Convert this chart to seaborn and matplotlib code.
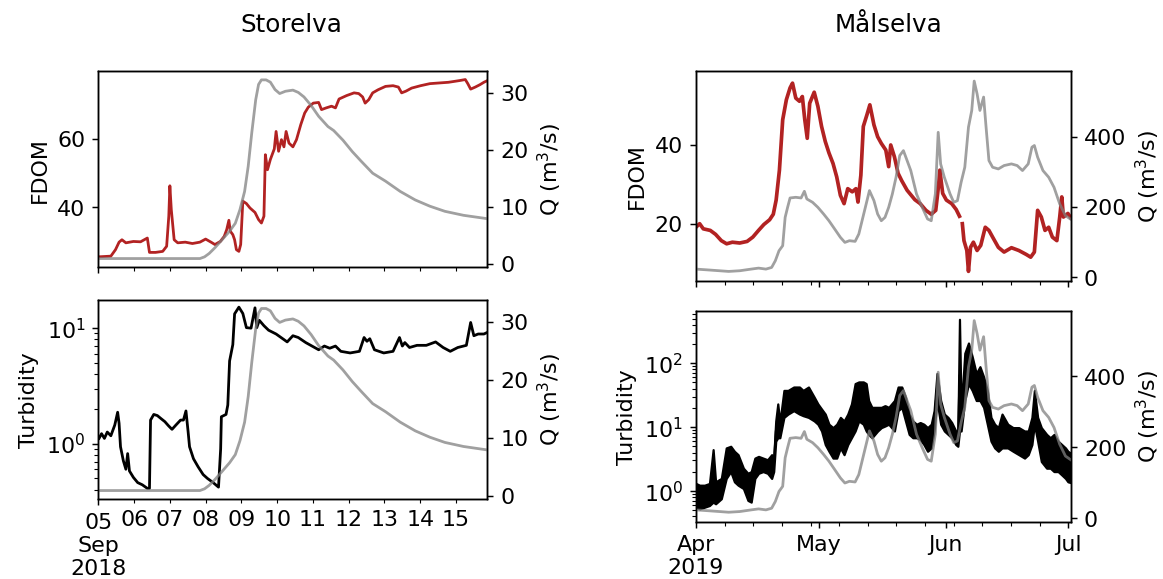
import matplotlib
matplotlib.use("Agg")
import numpy as np
import pandas as pd
import matplotlib.pyplot as plt
import matplotlib.dates as mdates
import matplotlib.ticker as mticker
import seaborn as sns

# ---------------- Storelva (days since 2018-09-05 00:00) ----------------
storelva_start = pd.Timestamp("2018-09-05")
storelva_span_days = 10.88

storelva_fdom_day = [0.0, 0.35, 0.48, 0.58, 0.66, 0.77, 0.98, 1.18, 1.37, 1.43, 1.60, 1.80, 1.91, 1.97,
                     2.00, 2.04, 2.12, 2.22, 2.43, 2.63, 2.84, 3.00, 3.15, 3.26, 3.41, 3.52, 3.59, 3.65,
                     3.69, 3.76, 3.81, 3.86, 3.93, 3.98, 4.04, 4.14, 4.24, 4.38, 4.48, 4.56, 4.63, 4.67,
                     4.73, 4.81, 4.92, 4.97, 5.04, 5.12, 5.19, 5.25, 5.33, 5.44, 5.54, 5.66, 5.77, 5.87,
                     6.01, 6.16, 6.24, 6.37, 6.52, 6.63, 6.73, 6.94, 7.15, 7.28, 7.39, 7.46, 7.56, 7.67,
                     7.82, 8.03, 8.24, 8.39, 8.48, 8.60, 8.76, 9.01, 9.27, 9.53, 9.79, 10.10, 10.26,
                     10.33, 10.41, 10.54, 10.67, 10.78, 10.88]
storelva_fdom = [25.5, 25.7, 27.6, 29.8, 30.5, 29.6, 30.0, 29.9, 31.0, 26.8, 26.8, 27.1, 28.6, 37.4,
                 46.3, 39.3, 30.5, 29.6, 29.8, 29.4, 29.8, 30.7, 29.8, 29.1, 30.0, 31.5, 33.5, 36.2,
                 33.0, 32.0, 30.5, 27.6, 27.1, 29.1, 41.8, 41.1, 39.8, 38.5, 36.4, 35.4, 37.4, 55.4,
                 51.0, 54.0, 57.1, 62.2, 56.4, 59.8, 57.7, 62.2, 58.8, 57.7, 59.8, 64.2, 67.6, 69.3,
                 70.5, 70.7, 68.6, 69.1, 69.6, 69.1, 71.7, 72.7, 73.5, 73.3, 72.3, 70.5, 71.5, 73.5,
                 74.4, 75.4, 75.6, 75.2, 73.5, 74.0, 74.9, 75.6, 76.2, 76.4, 76.6, 77.1, 77.4,
                 76.2, 74.6, 75.2, 75.9, 76.6, 77.1]

storelva_q_day = [0.0, 2.84, 2.97, 3.10, 3.26, 3.46, 3.67, 3.83, 3.96, 4.09, 4.19, 4.29, 4.40, 4.48,
                  4.56, 4.69, 4.81, 4.94, 5.07, 5.23, 5.44, 5.59, 5.75, 5.95, 6.16, 6.42, 6.58, 6.84,
                  7.10, 7.35, 7.67, 8.03, 8.44, 8.86, 9.27, 9.69, 10.21, 10.88]
storelva_q = [0.9, 0.9, 1.2, 1.8, 2.8, 4.2, 5.7, 7.1, 9.5, 12.7, 17.1, 23.0, 28.8, 31.5,
              32.3, 32.3, 31.9, 30.6, 29.9, 30.3, 30.5, 30.1, 29.3, 27.8, 25.9, 24.1, 23.4, 21.7,
              19.7, 18.0, 15.9, 14.5, 12.7, 11.2, 10.1, 9.2, 8.5, 7.9]

storelva_turb_day = [0.02, 0.09, 0.17, 0.25, 0.35, 0.46, 0.54, 0.58, 0.62, 0.70, 0.77, 0.82, 0.87, 0.98,
                     1.10, 1.23, 1.37, 1.43, 1.46, 1.55, 1.65, 1.75, 1.86, 1.96, 2.06, 2.17, 2.30, 2.38,
                     2.45, 2.51, 2.55, 2.66, 2.79, 2.93, 3.05, 3.21, 3.36, 3.42, 3.44, 3.57, 3.62, 3.67,
                     3.76, 3.81, 3.93, 4.04, 4.14, 4.27, 4.38, 4.43, 4.50, 4.63, 4.76, 4.97, 5.18, 5.28,
                     5.44, 5.59, 5.80, 6.01, 6.16, 6.32, 6.47, 6.63, 6.78, 7.04, 7.30, 7.43, 7.51, 7.59,
                     7.72, 7.98, 8.24, 8.42, 8.50, 8.57, 8.70, 8.91, 9.17, 9.43, 9.64, 9.84, 10.05, 10.29,
                     10.41, 10.50, 10.62, 10.78, 10.88]
storelva_turb = [1.11, 1.22, 1.11, 1.26, 1.17, 1.45, 1.87, 1.50, 0.94, 0.71, 0.60, 0.82, 0.58, 0.51,
                 0.46, 0.44, 0.41, 0.41, 1.60, 1.79, 1.75, 1.65, 1.55, 1.43, 1.33, 1.45, 1.60, 1.60,
                 1.92, 1.27, 0.94, 0.74, 0.63, 0.54, 0.50, 0.46, 0.42, 0.90, 1.71, 1.79, 2.16, 5.2,
                 7.2, 13.3, 15.2, 13.4, 10.1, 10.0, 15.0, 10.1, 11.7, 10.5, 9.6, 8.9, 8.0, 7.6,
                 8.6, 8.3, 7.5, 6.9, 6.5, 7.0, 6.7, 7.0, 6.3, 6.1, 6.3, 8.3, 7.7, 8.1,
                 6.5, 6.1, 6.3, 8.3, 7.0, 7.5, 6.8, 7.1, 7.1, 7.6, 6.8, 6.3, 6.8, 7.1,
                 11.2, 8.6, 8.9, 8.9, 9.2]

# ---------------- Målselva (days since 2019-04-01 00:00) ----------------
malselva_start = pd.Timestamp("2019-04-01")
malselva_span_days = 91.67

# FDOM record has a break in early June; two segments
malselva_fdom_day_a = [0.0, 0.9, 1.8, 3.5, 4.8, 6.2, 7.5, 8.9, 10.7, 12.5, 13.9, 15.3, 16.6, 18.0, 18.9,
                       19.6, 20.4, 21.2, 22.1, 23.0, 23.6, 24.4, 25.3, 26.0, 26.6, 27.2, 27.8, 28.9,
                       29.8, 30.7, 31.6, 32.5, 33.5, 34.4, 35.3, 36.2, 37.1, 38.2, 39.1, 39.6, 40.3,
                       40.9, 41.8, 42.5, 43.5, 44.4, 45.3, 46.4, 47.1, 47.6, 48.5, 49.4, 50.3, 51.6,
                       53.5, 54.8, 56.2, 57.5, 58.6, 59.3, 59.6, 60.3, 61.2, 62.5, 63.6, 64.4]
malselva_fdom_a = [19.1, 20.0, 18.7, 18.3, 17.3, 15.7, 14.9, 15.3, 15.1, 15.5, 16.6, 18.3, 19.8, 21.0, 22.4,
                   26.0, 33.6, 46.4, 51.5, 54.5, 55.7, 51.9, 51.1, 52.3, 46.4, 41.7, 50.6, 53.4,
                   49.8, 44.7, 40.9, 38.0, 35.3, 31.9, 27.2, 25.1, 28.9, 28.1, 28.9, 25.5, 32.3,
                   44.7, 47.7, 50.2, 45.1, 42.1, 40.4, 38.7, 34.5, 40.0, 37.0, 32.8, 30.9, 28.5,
                   26.1, 25.1, 23.4, 22.4, 23.4, 29.8, 33.6, 27.7, 26.0, 25.1, 23.6, 21.9]
malselva_fdom_day_b = [65.1, 65.5, 66.2, 66.6, 67.1, 67.8, 68.7, 69.6, 70.7, 71.6, 72.5, 73.9, 75.3, 77.1,
                       78.9, 80.7, 81.8, 82.7, 83.5, 84.4, 85.3, 86.2, 87.1, 88.2, 88.9, 89.4, 89.8,
                       90.9, 91.6]
malselva_fdom_b = [20.0, 15.7, 13.2, 7.9, 14.0, 15.3, 13.2, 14.5, 19.1, 18.3, 16.6, 14.0, 12.8, 13.9,
                   13.2, 12.2, 11.5, 12.8, 23.4, 21.7, 18.3, 19.1, 16.6, 15.7, 21.7, 26.8, 21.7,
                   22.6, 21.5]

malselva_q_day = [0.0, 3.5, 8.0, 10.7, 13.5, 15.3, 17.1, 18.5, 19.4, 20.3, 21.2, 21.8, 22.4, 23.0, 24.4,
                  25.7, 26.5, 27.1, 28.5, 29.8, 31.2, 32.5, 33.9, 35.3, 36.4, 37.5, 38.9, 39.8, 41.2,
                  42.4, 43.5, 44.4, 45.3, 46.2, 47.1, 48.0, 48.9, 49.8, 50.7, 51.6, 52.5, 53.9, 55.3,
                  56.6, 57.5, 58.5, 59.2, 59.8, 60.7, 62.1, 63.0, 63.9, 64.8, 65.7, 66.6, 67.4, 68.0,
                  68.7, 69.4, 70.3, 70.9, 71.6, 72.5, 73.9, 75.3, 77.1, 78.5, 79.8, 81.2, 82.1, 82.7,
                  83.5, 84.8, 86.2, 87.5, 88.9, 90.3, 90.9, 91.6]
malselva_q = [23.7, 20.9, 17.1, 19.0, 23.7, 26.5, 23.7, 28.4, 47.4, 75.8, 90.1, 170.6, 199.0, 225.6, 227.5,
              225.6, 244.6, 222.8, 213.3, 199.0, 180.0, 161.0, 137.5, 113.8, 99.5, 104.3, 102.4, 123.2, 189.6,
              246.5, 218.0, 180.0, 161.0, 170.6, 199.0, 237.0, 284.4, 346.0, 360.0, 331.8, 303.4, 237.0, 199.0,
              166.0, 161.0, 237.0, 412.0, 322.0, 284.4, 237.0, 213.3, 218.0, 270.0, 312.8, 426.6, 474.0, 557.4,
              521.4, 474.0, 512.0, 426.6, 331.8, 312.8, 308.0, 317.6, 322.3, 317.6, 303.4, 322.3, 369.7, 374.5,
              341.3, 303.4, 284.4, 256.0, 208.6, 175.4, 170.6, 165.0]

# Turbidity is very noisy: upper and lower envelope of the record
malselva_turb_day = [0.0, 0.9, 2.1, 3.3, 4.2, 4.8, 6.2, 7.4, 8.5, 9.4, 10.3, 11.6, 12.7, 13.5, 14.4,
                     15.3, 16.4, 17.5, 18.5, 19.0, 19.5, 20.0, 20.5, 21.5, 22.5, 23.9, 25.3, 26.2,
                     27.5, 28.9, 29.8, 30.7, 31.6, 32.5, 33.5, 34.4, 35.3, 36.2, 37.1, 38.0, 38.9,
                     39.8, 40.9, 41.6, 42.2, 43.0, 44.4, 45.3, 46.2, 47.1, 48.5, 49.4, 50.3, 51.2,
                     52.1, 53.0, 53.9, 54.8, 55.7, 56.6, 57.5, 58.2, 58.9, 59.8, 60.7, 61.6, 62.5,
                     63.5, 64.0, 64.4, 64.8, 65.7, 66.6, 67.5, 68.5, 69.4, 70.3, 71.2, 72.1, 73.0,
                     73.9, 74.8, 76.2, 77.5, 78.9, 80.3, 81.2, 82.1, 82.7, 83.5, 84.4, 85.7, 86.6,
                     87.5, 88.5, 89.4, 90.3, 90.9, 91.6]
malselva_turb_high = [1.31, 1.23, 1.23, 1.31, 4.44, 1.39, 1.57, 4.72, 5.01, 4.18, 3.70, 2.27, 1.89, 2.01, 3.27,
                      3.48, 3.27, 3.08, 3.70, 3.27, 12.5, 23.1, 11.8, 37.6, 37.6, 42.5, 42.5, 37.6,
                      42.5, 29.5, 23.1, 19.2, 16.0, 11.1, 9.82, 11.1, 14.2, 12.5, 16.0, 23.1, 48.1,
                      51.1, 51.1, 48.1, 26.1, 20.4, 20.4, 20.4, 21.7, 20.4, 26.1, 42.5, 42.5, 29.5,
                      16.0, 12.5, 11.1, 11.8, 11.1, 9.82, 11.1, 18.1, 69.3, 26.1, 16.0, 14.2, 11.8,
                      8.69, 7.69, 489.0, 18.1, 144.0, 208.0, 128.0, 69.3, 88.5, 61.3, 37.6, 14.2, 11.1,
                      9.82, 16.0, 11.1, 9.82, 9.82, 8.69, 8.69, 14.2, 37.6, 14.2, 9.82, 7.69, 6.81,
                      7.69, 6.02, 5.33, 4.72, 4.18, 3.9]
malselva_turb_low = [0.556, 0.523, 0.556, 0.591, 0.668, 0.629, 0.755, 1.57, 2.01, 1.39, 1.23, 1.09, 0.710, 0.668, 1.57,
                     1.89, 2.01, 1.89, 1.57, 2.01, 6.02, 6.81, 6.81, 14.2, 16.0, 18.1, 16.0, 15.1,
                     14.2, 12.5, 11.1, 8.69, 5.33, 4.18, 3.27, 3.27, 4.72, 3.70, 5.33, 6.81, 8.69,
                     12.5, 11.1, 8.69, 7.69, 6.81, 8.69, 9.82, 10.4, 11.1, 8.69, 18.1, 20.4, 12.5,
                     7.69, 6.81, 6.81, 6.40, 5.33, 4.18, 4.72, 8.69, 26.1, 11.1, 8.69, 7.69, 6.81,
                     5.33, 5.01, 8.69, 8.69, 26.1, 48.1, 37.6, 26.1, 26.1, 20.4, 11.1, 6.02, 4.72,
                     4.18, 4.72, 4.72, 4.18, 3.70, 3.27, 3.70, 5.33, 11.1, 6.02, 2.89, 2.27, 2.27,
                     2.01, 2.01, 1.78, 1.57, 1.39, 1.35]

FDOM_COLOR = "firebrick"
Q_COLOR = "grey"
Q_ALPHA = 0.75

plt.rcParams["font.size"] = 12


def to_time(start, days):
    return start + pd.to_timedelta(np.asarray(days, dtype=float), unit="D")


W, H = 1163, 579
DPI = 133


def rect(x0, y0, x1, y1):
    return [x0 / W, 1 - y1 / H, (x1 - x0) / W, (y1 - y0) / H]


fig = plt.figure(figsize=((W + 0.4) / DPI, (H + 0.4) / DPI), dpi=DPI)

ax_s_fdom = fig.add_axes(rect(98.3, 71.7, 487.3, 267.3))
ax_s_turb = fig.add_axes(rect(98.3, 300.0, 487.3, 499.3), sharex=ax_s_fdom)
ax_m_fdom = fig.add_axes(rect(695.7, 71.7, 1070.7, 281.0))
ax_m_turb = fig.add_axes(rect(695.7, 311.0, 1070.7, 521.7), sharex=ax_m_fdom)

Q_LABEL = "Q (m$^3$/s)"


def add_discharge(ax, t, q, ylim, step):
    axq = ax.twinx()
    sns.lineplot(x=t, y=q, ax=axq, color=Q_COLOR, alpha=Q_ALPHA, linewidth=1.5)
    axq.set_ylim(*ylim)
    axq.yaxis.set_major_locator(mticker.MultipleLocator(step))
    axq.set_ylabel(Q_LABEL)
    return axq


# ---- Storelva FDOM ----
t_sq = to_time(storelva_start, storelva_q_day)
sns.lineplot(x=to_time(storelva_start, storelva_fdom_day), y=storelva_fdom, ax=ax_s_fdom,
             color=FDOM_COLOR, linewidth=1.5)
ax_s_fdom.set_ylim(22.5, 79.8)
ax_s_fdom.yaxis.set_major_locator(mticker.MultipleLocator(20))
ax_s_fdom.set_ylabel("FDOM")
add_discharge(ax_s_fdom, t_sq, storelva_q, (-0.6, 33.8), 10)

# ---- Storelva turbidity ----
ax_s_turb.set_yscale("log")
sns.lineplot(x=to_time(storelva_start, storelva_turb_day), y=storelva_turb, ax=ax_s_turb,
             color="black", linewidth=1.5)
ax_s_turb.set_ylim(0.33, 17.6)
ax_s_turb.set_ylabel("Turbidity")
add_discharge(ax_s_turb, t_sq, storelva_q, (-0.6, 33.8), 10)

# ---- Målselva FDOM ----
t_mq = to_time(malselva_start, malselva_q_day)
sns.lineplot(x=to_time(malselva_start, malselva_fdom_day_a), y=malselva_fdom_a, ax=ax_m_fdom,
             color=FDOM_COLOR, linewidth=2.0)
sns.lineplot(x=to_time(malselva_start, malselva_fdom_day_b), y=malselva_fdom_b, ax=ax_m_fdom,
             color=FDOM_COLOR, linewidth=2.0)
ax_m_fdom.set_ylim(5.5, 58.7)
ax_m_fdom.yaxis.set_major_locator(mticker.MultipleLocator(20))
ax_m_fdom.set_ylabel("FDOM")
add_discharge(ax_m_fdom, t_mq, malselva_q, (-9.5, 585), 200)

# ---- Målselva turbidity: envelope of the noisy record ----
ax_m_turb.set_yscale("log")
t_mt = to_time(malselva_start, malselva_turb_day)
turb_long = pd.DataFrame({
    "time": np.concatenate([t_mt, t_mt]),
    "turbidity": np.concatenate([malselva_turb_high, malselva_turb_low]),
})
sns.lineplot(data=turb_long, x="time", y="turbidity", ax=ax_m_turb, color="black",
             estimator="mean", errorbar=("pi", 100), linewidth=1.0,
             err_kws={"alpha": 1.0, "linewidth": 1.2, "edgecolor": "black"})
ax_m_turb.set_ylim(0.33, 664)
ax_m_turb.set_ylabel("Turbidity")
add_discharge(ax_m_turb, t_mq, malselva_q, (-9.5, 585), 200)

# ---- x axes ----
# Storelva: first day is a major tick, month/year written beneath it; other days are minor ticks
s_days = [storelva_start + pd.Timedelta(days=i) for i in range(11)]
ax_s_turb.set_xlim(mdates.date2num(storelva_start),
                   mdates.date2num(storelva_start + pd.Timedelta(days=storelva_span_days)))
ax_s_turb.set_xticks(mdates.date2num(s_days[:1]), [s_days[0].strftime("%d")])
ax_s_turb.set_xticks(mdates.date2num(s_days[1:]), [d.strftime("%d") for d in s_days[1:]], minor=True)
ax_s_turb.annotate(s_days[0].strftime("%b\n%Y"), xy=(mdates.date2num(s_days[0]), 0),
                   xycoords=("data", "axes fraction"), xytext=(0, -19.5),
                   textcoords="offset points", ha="center", va="top", fontsize=12,
                   annotation_clip=False)
ax_s_fdom.tick_params(axis="x", which="both", labelbottom=False)

m_months = [pd.Timestamp(f"2019-{m:02d}-01") for m in (4, 5, 6, 7)]
m_labels = ["Apr\n2019", "May", "Jun", "Jul"]
ax_m_turb.set_xlim(mdates.date2num(malselva_start),
                   mdates.date2num(malselva_start + pd.Timedelta(days=malselva_span_days)))
ax_m_turb.set_xticks(mdates.date2num(m_months), m_labels)
ax_m_turb.xaxis.set_minor_locator(mdates.WeekdayLocator(byweekday=mdates.MO))
ax_m_turb.xaxis.set_minor_formatter(mticker.NullFormatter())
ax_m_fdom.tick_params(axis="x", which="both", labelbottom=False)

for ax in (ax_s_fdom, ax_s_turb, ax_m_fdom, ax_m_turb):
    ax.set_xlabel("")

fig.text(291 / W, 1 - 25 / H, "Storelva", ha="center", va="center", fontsize=13.3)
fig.text(888 / W, 1 - 25 / H, "Målselva", ha="center", va="center", fontsize=13.3)

fig.savefig("out.png", dpi=DPI)
